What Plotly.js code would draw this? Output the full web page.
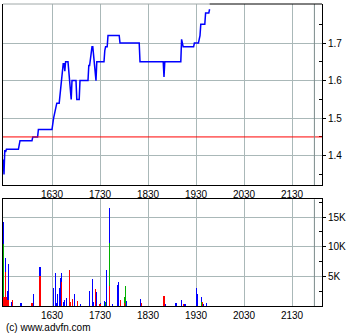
<!DOCTYPE html>
<html>
<head>
<meta charset="utf-8">
<script src="https://cdn.plot.ly/plotly-3.0.1.min.js"></script>
<style>html,body{margin:0;padding:0;background:#fff;}#chart{width:360px;height:336px;}</style>
</head>
<body>
<div id="chart"></div>
<script>
const day = "2024-01-02 ";
const prevClose = 1.45;

const priceTimes = ["15:29","15:30","15:31","15:32","15:33","15:48","15:50","16:05","16:06","16:12","16:13","16:30","16:32","16:35","16:36","16:39","16:41","16:42","16:44","16:45","16:46","16:47","16:50","16:54","16:55","17:00","17:01","17:04","17:05","17:15","17:16","17:17","17:20","17:21","17:25","17:26","17:35","17:36","17:37","17:39","17:40","17:54","17:55","18:19","18:20","18:49","18:50","18:51","19:11","19:12","19:13","19:14","19:27","19:28","19:33","19:34","19:35","19:36","19:41","19:42","19:46","19:47"];
const prices = [1.39,1.35,1.415,1.41,1.417,1.417,1.44,1.44,1.45,1.45,1.47,1.47,1.50,1.53,1.54,1.54,1.59,1.595,1.645,1.645,1.625,1.65,1.65,1.55,1.60,1.60,1.55,1.55,1.60,1.60,1.64,1.64,1.69,1.69,1.60,1.65,1.65,1.68,1.69,1.69,1.72,1.72,1.70,1.70,1.65,1.65,1.61,1.65,1.65,1.71,1.70,1.69,1.69,1.70,1.70,1.71,1.72,1.75,1.75,1.78,1.78,1.79];

const blueTimes = ["15:29","15:32","15:34","15:36","15:40","15:51","15:52","16:07","16:15","16:32","16:34","16:36","16:37","16:39","16:41","16:42","16:44","16:46","16:48","16:58","17:06","17:17","17:21","17:22","17:26","17:31","17:36","17:38","17:42","17:46","17:52","17:53","18:03","18:21","18:52","19:05","19:12","19:16","19:17","19:31","19:32","19:37","19:39","19:43"];
const blueVols = [14100,8100,2600,7100,600,450,450,2000,6600,3100,5600,500,2100,3000,4700,5600,700,1000,1300,2100,400,2600,4500,700,2400,500,800,6100,16600,300,3600,4100,850,1200,300,560,1000,400,400,3100,2000,1600,400,500];

const greenTimes = ["15:29","17:37","17:42","18:01","18:02","19:37"];
const greenVols = [10500,600,10600,1600,3400,600];

const redTimes = ["15:30","15:31","15:32","15:33","15:35","15:41","16:05","16:15","16:42","16:52","16:53","16:56","17:02","17:24","17:30","17:42","17:56","18:01","18:22","18:50","19:14","19:38"];
const redVols = [1600,500,5800,1500,1000,1000,450,5000,4000,6100,600,1100,900,2900,400,3400,1000,500,560,1700,300,600];

const xRange = ["15:28:45","22:07:30"];
const closeMarker = "21:58";
const priceTicks = [1.4,1.5,1.6,1.7];
const priceMinor = [1.35,1.45,1.55,1.65,1.75];
const volTicks = [5000,10000,15000];
const volTickText = ["5K","10K","15K"];
const volMinor = [2500,7500,12500,17500];

const T = a => a.map(t => day + t);
const barW = 100000;
const font = {family: "Liberation Sans, Arial, sans-serif", size: 10, color: "#000"};
const gridColor = "#aab8b8";

const traces = [
  {x: T(priceTimes), y: prices, type: "scatter", mode: "lines", line: {color: "#0000ff", width: 1.5}, xaxis: "x", yaxis: "y", hoverinfo: "skip"},
  {x: T(blueTimes), y: blueVols, type: "bar", marker: {color: "#0000ff", line: {width: 0}}, width: barW, xaxis: "x2", yaxis: "y2"},
  {x: T(greenTimes), y: greenVols, type: "bar", marker: {color: "#00b000", line: {width: 0}}, width: barW, xaxis: "x2", yaxis: "y2"},
  {x: T(redTimes), y: redVols, type: "bar", marker: {color: "#ff0000", line: {width: 0}}, width: barW, xaxis: "x2", yaxis: "y2"}
];

const xCommon = {
  type: "date", range: T(xRange), tickformat: "%H%M", dtick: 3600000, tick0: day + "16:30",
  showgrid: true, gridcolor: gridColor, gridwidth: 1, zeroline: false,
  showline: true, linecolor: "#000", linewidth: 1, ticks: "", tickfont: font
};

const lastTime = day + priceTimes[priceTimes.length - 1];

const layout = {
  width: 360, height: 336,
  margin: {l: 3, r: 38, t: 4, b: 30},
  paper_bgcolor: "#fff", plot_bgcolor: "#fff",
  showlegend: false, barmode: "overlay", bargap: 0,
  font: font,
  xaxis: Object.assign({}, xCommon, {anchor: "y", domain: [0, 1]}),
  xaxis2: Object.assign({}, xCommon, {anchor: "y2", domain: [0, 1], mirror: true}),
  yaxis: {
    domain: [0.4007, 1], range: [1.322, 1.804], side: "right", anchor: "x",
    tickmode: "array", tickvals: priceTicks, tickformat: ".1f",
    ticks: "outside", ticklen: 3, tickcolor: "#000",
    minor: {tickmode: "array", tickvals: priceMinor, ticks: "inside", ticklen: 3, tickcolor: "#000", showgrid: false},
    showgrid: true, gridcolor: gridColor, zeroline: false,
    showline: true, linecolor: "#000", mirror: true, tickfont: font
  },
  yaxis2: {
    domain: [0, 0.3533], range: [0, 18000], side: "right", anchor: "x2",
    tickmode: "array", tickvals: volTicks, ticktext: volTickText,
    ticks: "outside", ticklen: 3, tickcolor: "#000",
    minor: {tickmode: "array", tickvals: volMinor, ticks: "inside", ticklen: 3, tickcolor: "#000", showgrid: false},
    showgrid: true, gridcolor: gridColor, zeroline: false,
    showline: true, linecolor: "#000", mirror: true, tickfont: font
  },
  shapes: [
    {type: "line", xref: "x", yref: "y", x0: day + xRange[0], x1: day + xRange[1], y0: prevClose, y1: prevClose, line: {color: "#ff0000", width: 1}},
    {type: "line", xref: "x", yref: "y domain", x0: day + closeMarker, x1: day + closeMarker, y0: 0, y1: 1, line: {color: "#7a8a8a", width: 1}},
    {type: "line", xref: "x2", yref: "y2 domain", x0: day + closeMarker, x1: day + closeMarker, y0: 0, y1: 1, line: {color: "#7a8a8a", width: 1}},
    {type: "line", xref: "x", yref: "y domain", x0: day + xRange[0], x1: lastTime, y0: 1, y1: 1, line: {color: "#a0a8a8", width: 1}},
    {type: "line", xref: "x", yref: "y domain", x0: lastTime, x1: day + xRange[1], y0: 1, y1: 1, line: {color: "#000", width: 1}}
  ],
  annotations: [
    {text: "(c) www.advfn.com", xref: "paper", yref: "paper", x: 0, y: -0.071, xanchor: "left", yanchor: "middle", showarrow: false, font: {family: "Liberation Sans, Arial, sans-serif", size: 10, color: "#000"}, xshift: 1}
  ]
};

Plotly.newPlot("chart", traces, layout, {staticPlot: true, displayModeBar: false});
</script>
</body>
</html>
